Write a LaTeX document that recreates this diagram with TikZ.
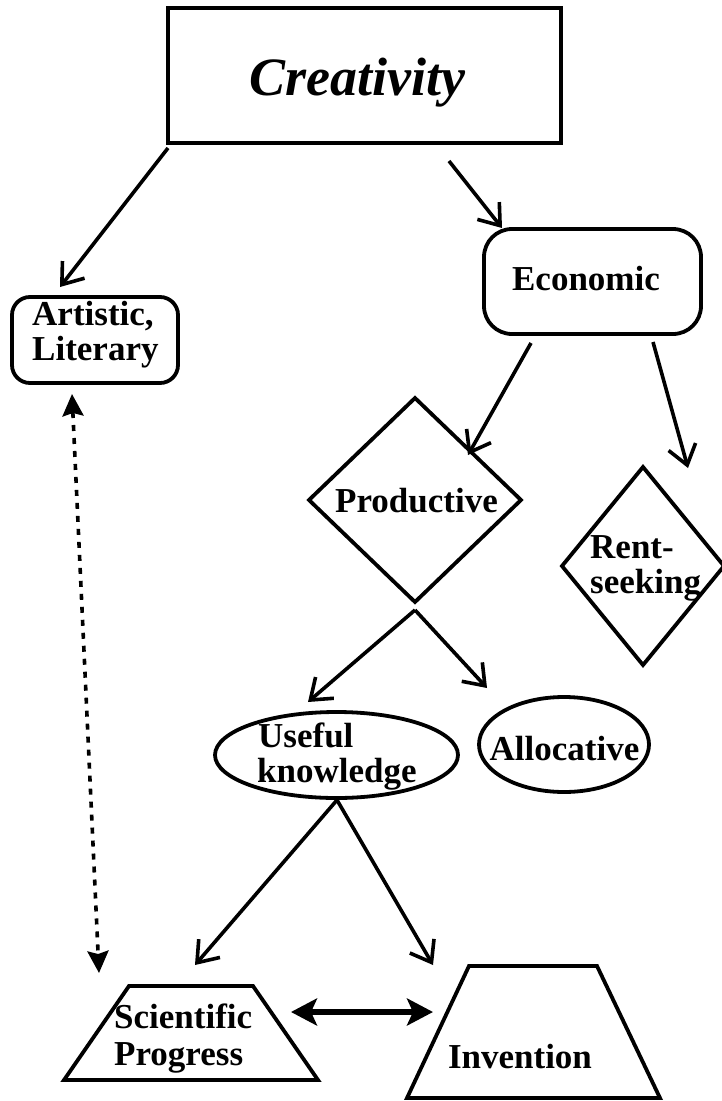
\documentclass[tikz,border=0pt]{standalone}
\usepackage{fontspec}
\setmainfont{Liberation Serif}
\usetikzlibrary{arrows.meta,shapes.geometric,calc}
\tikzset{
  shp/.style={draw=black, line width=3.8pt, inner sep=0pt, outer sep=0pt},
  lbl/.style={inner sep=0pt, font=\fontsize{35}{35}\selectfont\bfseries},
  arr/.style={line width=3.6pt, -{Straight Barb[length=19pt,width=28pt]}},
  dbl/.style={line width=6pt, {Stealth[length=26pt,width=27pt,inset=6pt]}-{Stealth[length=26pt,width=27pt,inset=6pt]}},
  dots/.style={line width=3.6pt, dash pattern=on 6pt off 7pt, {Stealth[length=22pt,width=21pt,inset=3pt]}-{Stealth[length=22pt,width=21pt,inset=3pt]}},
  frame/.style={inner sep=0pt, outer sep=0pt, rectangle}
}
\begin{document}
\begin{tikzpicture}[x=1pt,y=1pt]
\useasboundingbox (0,0) rectangle (721,-1101);
% shapes
\node[shp, rectangle, minimum width=393pt, minimum height=135pt] (creat) at (364.5,-75.5) {};
\node[shp, rectangle, rounded corners=18pt, minimum width=166pt, minimum height=86pt] (art) at (95,-340) {};
\node[shp, rectangle, rounded corners=28pt, minimum width=217pt, minimum height=105pt] (econ) at (592.5,-281.5) {};
\node[shp, diamond, minimum width=212pt, minimum height=204pt] (prod) at (415,-500) {};
\node[shp, diamond, minimum width=162pt, minimum height=198pt] (rent) at (643,-566) {};
\node[shp, ellipse, minimum width=243pt, minimum height=86pt] (useful) at (336.5,-755) {};
\node[shp, ellipse, minimum width=170pt, minimum height=95pt] (alloc) at (564,-744.5) {};
% trapezoids: frames for anchors, outlines drawn directly
\node[frame, minimum width=254pt, minimum height=94pt] (sci) at (191,-1033) {};
\node[frame, minimum width=253pt, minimum height=132pt] (inv) at (533.5,-1032) {};
\draw[line width=3.8pt, line join=miter] (sci.south west) -- ($(sci.north west)+(65,0)$) -- ($(sci.north east)+(-65,0)$) -- (sci.south east) -- cycle;
\draw[line width=3.8pt, line join=miter] (inv.south west) -- ($(inv.north west)+(62,0)$) -- ($(inv.north east)+(-63,0)$) -- (inv.south east) -- cycle;
% texts
\node[inner sep=0pt, anchor=base, font=\fontsize{54}{54}\selectfont\bfseries\itshape] (creatT) at (357,-95) {Creativity};
\node[lbl, anchor=base] (econT) at (586,-290) {Economic};
\node[lbl, anchor=base west] (artT1) at (32,-325) {Artistic,};
\node[lbl, anchor=base west] (artT2) at (32,-360) {Literary};
\node[lbl, anchor=base] (prodT) at (416.5,-512) {Productive};
\node[lbl, anchor=base west] (rentT1) at (590,-558) {Rent-};
\node[lbl, anchor=base west] (rentT2) at (590,-593) {seeking};
\node[lbl, anchor=base west] (usefulT1) at (258,-747) {Useful};
\node[lbl, anchor=base west] (usefulT2) at (257,-782) {knowledge};
\node[lbl, anchor=base] (allocT) at (564.5,-760) {Allocative};
\node[lbl, anchor=base west] (sciT1) at (114,-1028) {Scientific};
\node[lbl, anchor=base west] (sciT2) at (114,-1065) {Progress};
\node[lbl, anchor=base] (invT) at (520,-1068) {Invention};
% connectors
\draw[arr] ($(creat.south west)+(0,-5)$) -- ($(art.north)+(-35,10)$);
\draw[arr] ($(creat.south)+(84.5,-18)$) -- ($(econ.north)+(-90.5,1)$);
\draw[arr] ($(econ.south)+(-61.5,-9)$) -- ($(prod.center)+(53,45)$);
\draw[arr] ($(econ.south)+(60.5,-8)$) -- ($(rent.north)+(45,-1)$);
\draw[arr] ($(prod.south)+(0,-8)$) -- ($(useful.north)+(-28.5,10)$);
\draw[arr] ($(prod.south)+(0,-8)$) -- ($(alloc.north)+(-77,9)$);
\draw[arr] ($(useful.south)+(0.5,-2)$) -- ($(sci.north)+(4,21)$);
\draw[arr] ($(useful.south)+(0.5,-2)$) -- ($(inv.north)+(-100.5,1)$);
\draw[dbl] ($(sci.center)+(100,21)$) -- ($(inv.center)+(-100.5,20)$);
\draw[dots] ($(art.south)+(-23,-11)$) -- ($(sci.north)+(-92,13)$);
\end{tikzpicture}
\end{document}
